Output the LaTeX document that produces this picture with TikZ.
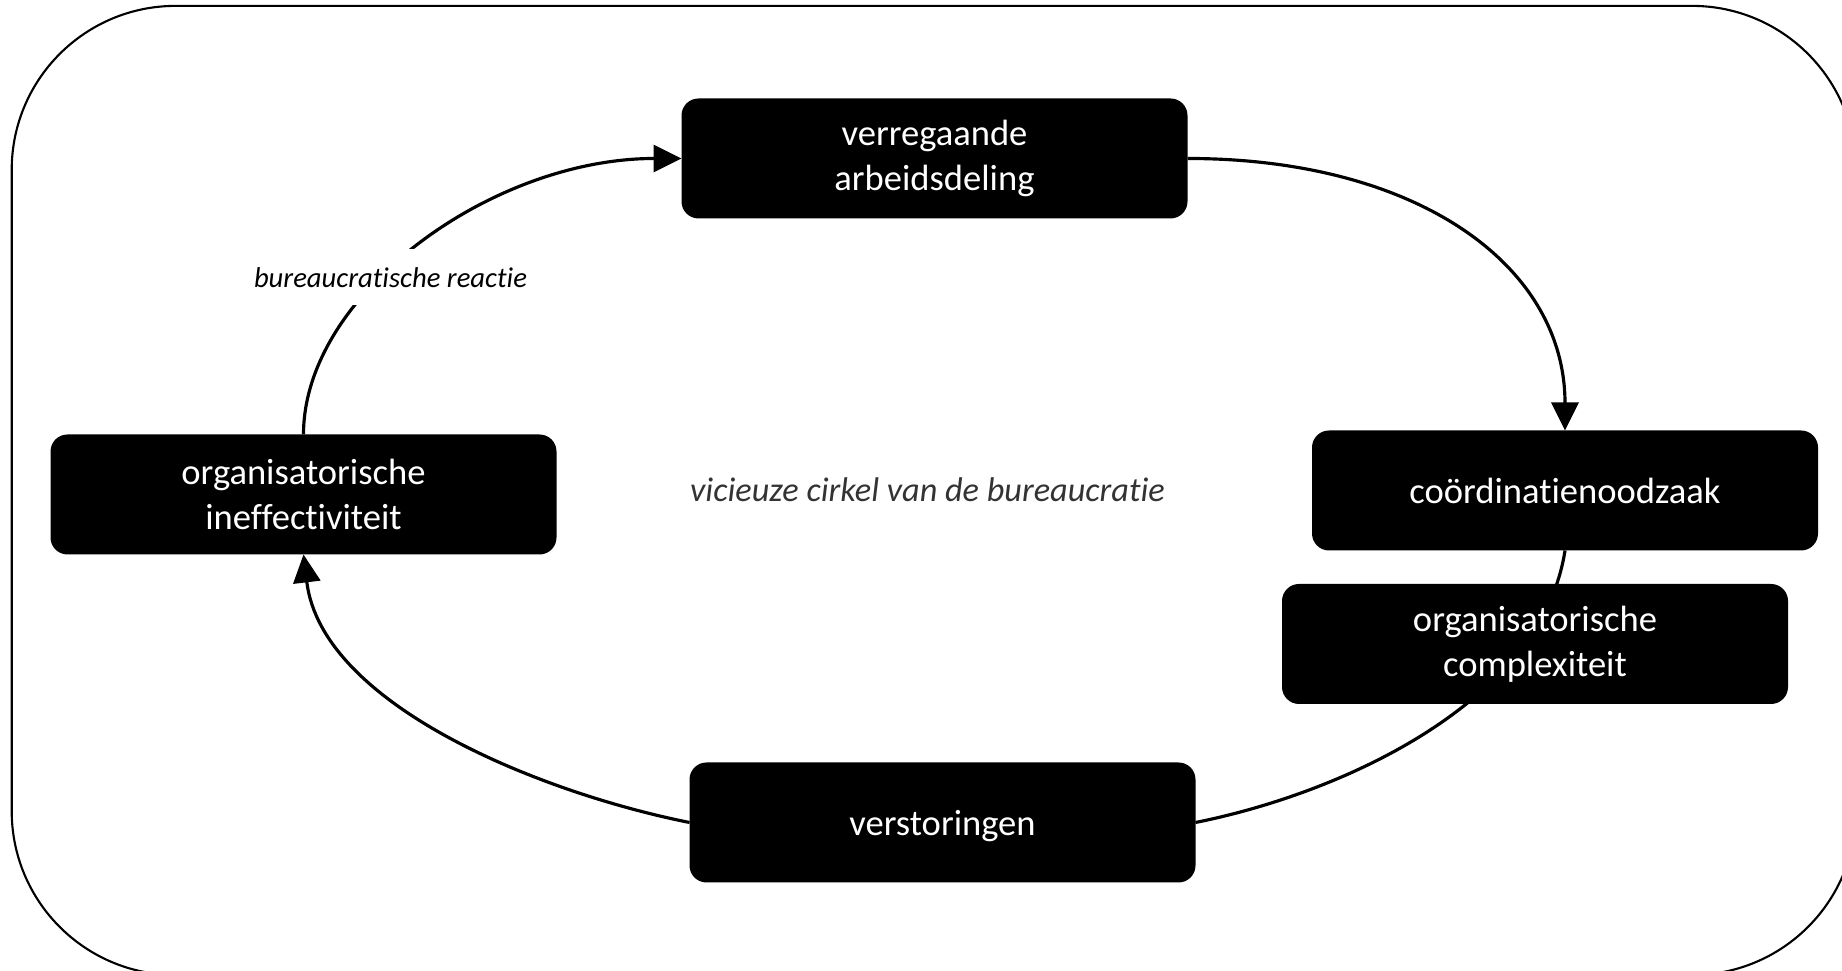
\documentclass[tikz,border=0pt]{standalone}
\usepackage{fontspec}
\setmainfont{Carlito}[Ligatures=NoCommon]
\usetikzlibrary{arrows.meta, positioning, backgrounds}

\begin{document}
\begin{tikzpicture}[
    block/.style={rectangle, fill=black, text=white, align=center, rounded corners=0.17cm, minimum width=5.06cm, minimum height=1.2cm, inner sep=0pt, outer sep=0pt, font=\fontsize{10.4}{12.8}\selectfont},
    arrow/.style={line width=0.9pt, -{Triangle[length=0.28cm, width=0.27cm]}},
    link/.style={line width=0.9pt},
    reactiebox/.style={fill=white, inner xsep=0.05cm, inner ysep=0.18cm, font=\fontsize{8.15}{9.8}\selectfont\itshape},
    midtext/.style={text=black!80, font=\fontsize{9.75}{11.7}\selectfont\itshape}
]

% Frame
\useasboundingbox (0,0) rectangle (18.42,9.71);
\draw[line width=0.6pt, rounded corners=1.64cm] (0.117,-0.04) rectangle (18.56,9.651);

% Main blocks
\node[block] (arbeid) at (9.345,8.125) {verregaande\\arbeidsdeling};
\node[block, below left=2.16cm and 1.25cm of arbeid] (ineff) {organisatorische\\ineffectiviteit};
\node[block, below right=2.12cm and 1.245cm of arbeid] (coord) {coördinatienoodzaak};
\node[block, below=0.335cm of coord, xshift=-0.3cm] (complex) {organisatorische\\complexiteit};
\node[block, below=5.44cm of arbeid, xshift=0.08cm, text depth=0pt] (storing) {verstoringen};

% Centre text
\node[midtext] (cirkel) at (9.275,4.81) {vicieuze cirkel van de bureaucratie};

% Arrows
\draw[arrow] (ineff.north) .. controls +(0,1.4) and +(-1.9,0) .. (arbeid.west)
    node[pos=0.41, reactiebox, xshift=0.05cm, yshift=-0.04cm] (reactie) {bureaucratische reactie};
\draw[arrow] (arbeid.east) .. controls +(2.3,0) and +(0,1.65) .. (coord.north);
\draw[arrow] (storing.west) .. controls +(-1.5,0.3) and +(0.18,-1.5) .. (ineff.south);

% Line behind the complexity block
\begin{scope}[on background layer]
\draw[link] (coord.south) .. controls +(-0.23,-1.5) and +(1.5,0.3) .. (storing.east);
\end{scope}

\end{tikzpicture}
\end{document}
